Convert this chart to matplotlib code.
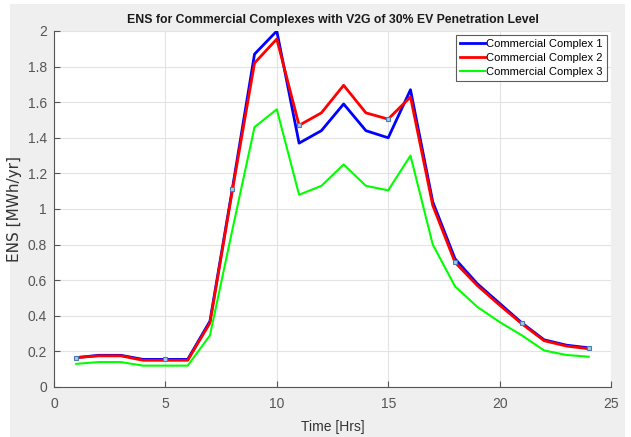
import matplotlib
matplotlib.use("Agg")
import matplotlib.pyplot as plt
from matplotlib.patches import Rectangle

plt.rcParams['font.family'] = ['Liberation Sans', 'DejaVu Sans']

hours = list(range(1, 25))
cc1 = [0.165, 0.178, 0.178, 0.155, 0.155, 0.155, 0.37, 1.11, 1.87, 2.0, 1.37, 1.44,
       1.59, 1.44, 1.40, 1.67, 1.04, 0.72, 0.58, 0.47, 0.36, 0.265, 0.235, 0.22]
cc2 = [0.165, 0.175, 0.175, 0.15, 0.15, 0.15, 0.36, 1.10, 1.82, 1.955, 1.47, 1.54,
       1.695, 1.54, 1.505, 1.63, 1.02, 0.70, 0.57, 0.46, 0.355, 0.26, 0.23, 0.215]
cc3 = [0.13, 0.14, 0.14, 0.12, 0.12, 0.12, 0.29, 0.88, 1.46, 1.56, 1.08, 1.13,
       1.25, 1.13, 1.105, 1.30, 0.80, 0.565, 0.45, 0.365, 0.29, 0.205, 0.18, 0.17]
labels = ['Commercial Complex 1', 'Commercial Complex 2', 'Commercial Complex 3']
# hours where data tips are shown, with their y values
tip_hours = [1, 5, 8, 11, 15, 18, 21, 24]
tip_vals = [0.165, 0.155, 1.11, 1.47, 1.505, 0.705, 0.36, 0.22]

fig = plt.figure(figsize=(6.31, 4.37), dpi=100, facecolor='white')
# grey matlab-like figure panel
fig.patches.append(Rectangle((10/631, 0), 615/631, 433/437, transform=fig.transFigure,
                             facecolor='#efefef', edgecolor='none', zorder=-10))
ax = fig.add_axes([54/631, 1 - 387/437, 557/631, 356/437])
ax.set_facecolor('white')

ax.plot(hours, cc1, color='#0000ff', lw=2, label=labels[0])
ax.plot(hours, cc2, color='#ff0000', lw=2, label=labels[1])
ax.plot(hours, cc3, color='#00ff00', lw=1.5, label=labels[2])
ax.plot(tip_hours, tip_vals, ls='none', marker='s', ms=3.5, mfc='#a8c8e8', mec='#4a7ab0', mew=0.8)

ax.set_xlim(0, 25)
ax.set_ylim(0, 2)
ax.set_xticks(range(0, 26, 5))
ax.set_yticks([0, 0.2, 0.4, 0.6, 0.8, 1, 1.2, 1.4, 1.6, 1.8, 2])
ax.set_yticklabels(['0', '0.2', '0.4', '0.6', '0.8', '1', '1.2', '1.4', '1.6', '1.8', '2'])
ax.grid(True, color='#e3e3e3', lw=0.8)
ax.set_axisbelow(True)
for s in ['top', 'right']:
    ax.spines[s].set_visible(False)
for s in ['left', 'bottom']:
    ax.spines[s].set_color('#555555')
ax.tick_params(colors='#555555', labelsize=10, direction='in', length=4)
ax.tick_params(axis='x', pad=7)
ax.tick_params(axis='y', pad=5)
ax.set_xlabel('Time [Hrs]', fontsize=10, color='#333333', labelpad=7)
ax.set_ylabel('ENS [MWh/yr]', fontsize=11, color='#333333', family=['DejaVu Sans'], labelpad=4)
ax.set_title('ENS for Commercial Complexes with V2G of 30% EV Penetration Level',
             fontsize=8.8, fontweight='bold', color='#1a1a1a', pad=6)

leg = ax.legend(loc='upper right', fontsize=8, frameon=True, fancybox=False,
                borderpad=0.35, labelspacing=0.35, handlelength=2.3, handletextpad=0.1,
                borderaxespad=0.4)
leg.get_frame().set_edgecolor('#333333')
leg.get_frame().set_linewidth(0.8)

fig.savefig('out.png', dpi=100)
